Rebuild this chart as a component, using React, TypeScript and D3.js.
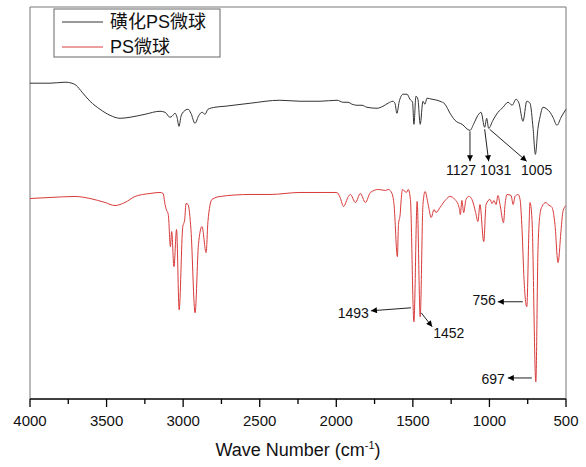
import React from 'react'
import * as d3 from 'd3'

// FTIR spectra: [wavenumber (cm-1), transmittance (a.u.)]
const sulfonatedPS: [number, number][] = [
  [4000, 315], [3869, 315], [3771, 316], [3726, 315], [3700, 313], [3660, 306], [3608, 297],
  [3543, 289], [3478, 283], [3412, 280], [3347, 281], [3249, 284], [3151, 287], [3118, 286],
  [3086, 281], [3073, 282], [3053, 285], [3040, 281], [3027, 272], [3014, 282], [2994, 287],
  [2968, 289], [2949, 285], [2923, 275], [2897, 283], [2877, 286], [2857, 284], [2838, 289],
  [2792, 291], [2727, 292], [2563, 295], [2368, 298], [2237, 297], [2106, 297], [1995, 298],
  [1956, 296], [1923, 296], [1897, 294], [1865, 293], [1832, 293], [1800, 291], [1734, 290],
  [1695, 292], [1662, 295], [1630, 297], [1617, 295], [1604, 285], [1590, 296], [1564, 304],
  [1538, 304], [1519, 299], [1502, 296], [1493, 274], [1480, 302], [1467, 299], [1452, 274],
  [1434, 297], [1421, 294], [1408, 300], [1375, 299], [1323, 297], [1290, 294], [1257, 285],
  [1225, 278], [1179, 274], [1127, 268], [1101, 275], [1075, 283], [1055, 286], [1031, 271],
  [1018, 280], [1005, 270], [977, 278], [944, 286], [911, 291], [878, 296], [852, 293],
  [826, 299], [807, 295], [781, 277], [756, 297], [735, 295], [715, 270], [700, 244],
  [683, 270], [670, 281], [650, 291], [624, 289], [604, 286], [585, 281], [559, 273],
  [532, 281], [500, 289],
]

const plainPS: [number, number][] = [
  [4000, 200], [3869, 201], [3706, 202], [3608, 200], [3510, 196], [3445, 193], [3380, 196],
  [3314, 202], [3216, 205], [3151, 206], [3131, 205], [3118, 194], [3110, 189], [3097, 184],
  [3083, 152], [3075, 167], [3060, 132], [3043, 169], [3026, 89], [3003, 171], [2990, 179],
  [2981, 195], [2968, 194], [2949, 169], [2922, 86], [2900, 154], [2877, 172], [2850, 146],
  [2838, 177], [2812, 199], [2759, 202], [2563, 204], [2433, 204], [2237, 206], [2106, 206],
  [1996, 206], [1975, 201], [1953, 192], [1921, 202], [1908, 204], [1875, 196], [1843, 205],
  [1810, 196], [1777, 206], [1725, 209], [1680, 208], [1660, 209], [1636, 205], [1623, 194],
  [1601, 142], [1594, 174], [1583, 184], [1576, 199], [1568, 209], [1542, 206], [1530, 209],
  [1516, 199], [1493, 77], [1472, 197], [1452, 82], [1434, 194], [1420, 207], [1400, 194],
  [1380, 181], [1362, 189], [1349, 186], [1323, 191], [1284, 199], [1258, 202], [1225, 199],
  [1198, 191], [1190, 184], [1180, 198], [1168, 186], [1153, 199], [1134, 202], [1114, 199],
  [1090, 186], [1075, 177], [1062, 194], [1037, 157], [1022, 194], [996, 199], [983, 195],
  [970, 198], [957, 194], [944, 203], [931, 194], [908, 176], [898, 194], [885, 204],
  [859, 203], [845, 194], [833, 202], [813, 204], [800, 199], [787, 169], [774, 119],
  [756, 92], [742, 169], [735, 196], [722, 179], [697, 17], [683, 149], [670, 184],
  [657, 192], [631, 196], [618, 194], [591, 191], [572, 174], [552, 136], [532, 169],
  [520, 187], [500, 193],
]

const seriesNames = ['磺化PS微球', 'PS微球']
const seriesColors = ['#333333', '#d93a3a']

// peak labels: series index, wavenumber
const peakLabels = [
  { s: 0, wn: 1127, start: [0, 1], d: [0, 30], lab: [-9, 14], anchor: 'middle' },
  { s: 0, wn: 1031, start: [0, 2], d: [4, 32], lab: [7, 14], anchor: 'middle' },
  { s: 0, wn: 1005, start: [1, 1], d: [37, 32], lab: [10, 14], anchor: 'middle' },
  { s: 1, wn: 1493, start: [-3, -14], d: [-40, 3], lab: [-2, 7], anchor: 'end' },
  { s: 1, wn: 1452, start: [1, -4], d: [11, 14], lab: [1, 11], anchor: 'start' },
  { s: 1, wn: 756, start: [-4, -5], d: [-25, 0], lab: [-2, 3], anchor: 'end' },
  { s: 1, wn: 697, start: [-4, -4], d: [-24, 0], lab: [-3, 6], anchor: 'end' },
]

const W = 586
const H = 467
const m = { left: 30, right: 566, top: 7, bottom: 399 }
const font = "'Liberation Sans', Arial, 'Noto Sans CJK SC', sans-serif"

export default function App() {
  const x = d3.scaleLinear().domain([4000, 500]).range([m.left, m.right])
  const y = d3.scaleLinear().domain([0, 391]).range([m.bottom, m.top])
  const line = d3.line<[number, number]>()
    .x(d => x(d[0]))
    .y(d => y(d[1]))
    .curve(d3.curveMonotoneX)

  const data = [sulfonatedPS, plainPS]
  const majors = x.ticks(7)
  const minors = d3.range(750, 4000, 500)

  return (
    <svg width={W} height={H} style={{ position: 'absolute', left: 0, top: 0, background: '#fff' }} fontFamily={font}>
      <defs>
        <marker id="arr" viewBox="0 0 10 10" refX="10" refY="5" markerWidth="9" markerHeight="6"
          markerUnits="userSpaceOnUse" orient="auto">
          <path d="M0,0L10,5L0,10z" fill="#000" />
        </marker>
      </defs>

      {/* frame */}
      <path d={`M${m.left},${m.bottom}V${m.top}H${m.right}V${m.bottom}`} fill="none" stroke="#777" strokeWidth={1} />

      {data.map((d, i) => (
        <path key={i} d={line(d) || ''} fill="none" stroke={seriesColors[i]} strokeWidth={1} />
      ))}

      {/* annotations */}
      {peakLabels.map((p, i) => {
        const pt = data[p.s].find(d => d[0] === p.wn)!
        const x1 = x(pt[0]) + p.start[0]
        const y1 = y(pt[1]) + p.start[1]
        const x2 = x1 + p.d[0]
        const y2 = y1 + p.d[1]
        return (
          <g key={i}>
            <line x1={x1} y1={y1} x2={x2} y2={y2} stroke="#222" strokeWidth={1} markerEnd="url(#arr)" />
            <text x={x2 + p.lab[0]} y={y2 + p.lab[1]} fontSize={14} textAnchor={p.anchor as any} fill="#111">{p.wn}</text>
          </g>
        )
      })}

      {/* bottom axis */}
      <line x1={m.left} x2={m.right} y1={m.bottom} y2={m.bottom} stroke="#000" strokeWidth={1.6} />
      {majors.map(t => (
        <g key={t}>
          <line x1={x(t)} x2={x(t)} y1={m.bottom} y2={m.bottom + 8} stroke="#000" strokeWidth={1.3} />
          <text x={x(t)} y={426} fontSize={15} textAnchor="middle" fill="#111">{t}</text>
        </g>
      ))}
      {minors.map(t => (
        <line key={t} x1={x(t)} x2={x(t)} y1={m.bottom} y2={m.bottom + 5} stroke="#000" strokeWidth={1.3} />
      ))}
      <text x={(m.left + m.right) / 2} y={456} fontSize={18} textAnchor="middle" fill="#111">
        Wave Number (cm<tspan fontSize={11} dy={-7}>-1</tspan><tspan dy={7}>)</tspan>
      </text>

      {/* legend */}
      <rect x={54} y={9} width={166} height={48} fill="#fff" stroke="#666" strokeWidth={1} />
      {seriesNames.map((n, i) => (
        <g key={n} transform={`translate(0,${22 + i * 25})`}>
          <line x1={62} x2={103} y1={0} y2={0} stroke={seriesColors[i]} strokeWidth={1} />
          <text x={110} y={6} fontSize={18} fill="#111">{n}</text>
        </g>
      ))}
    </svg>
  )
}
